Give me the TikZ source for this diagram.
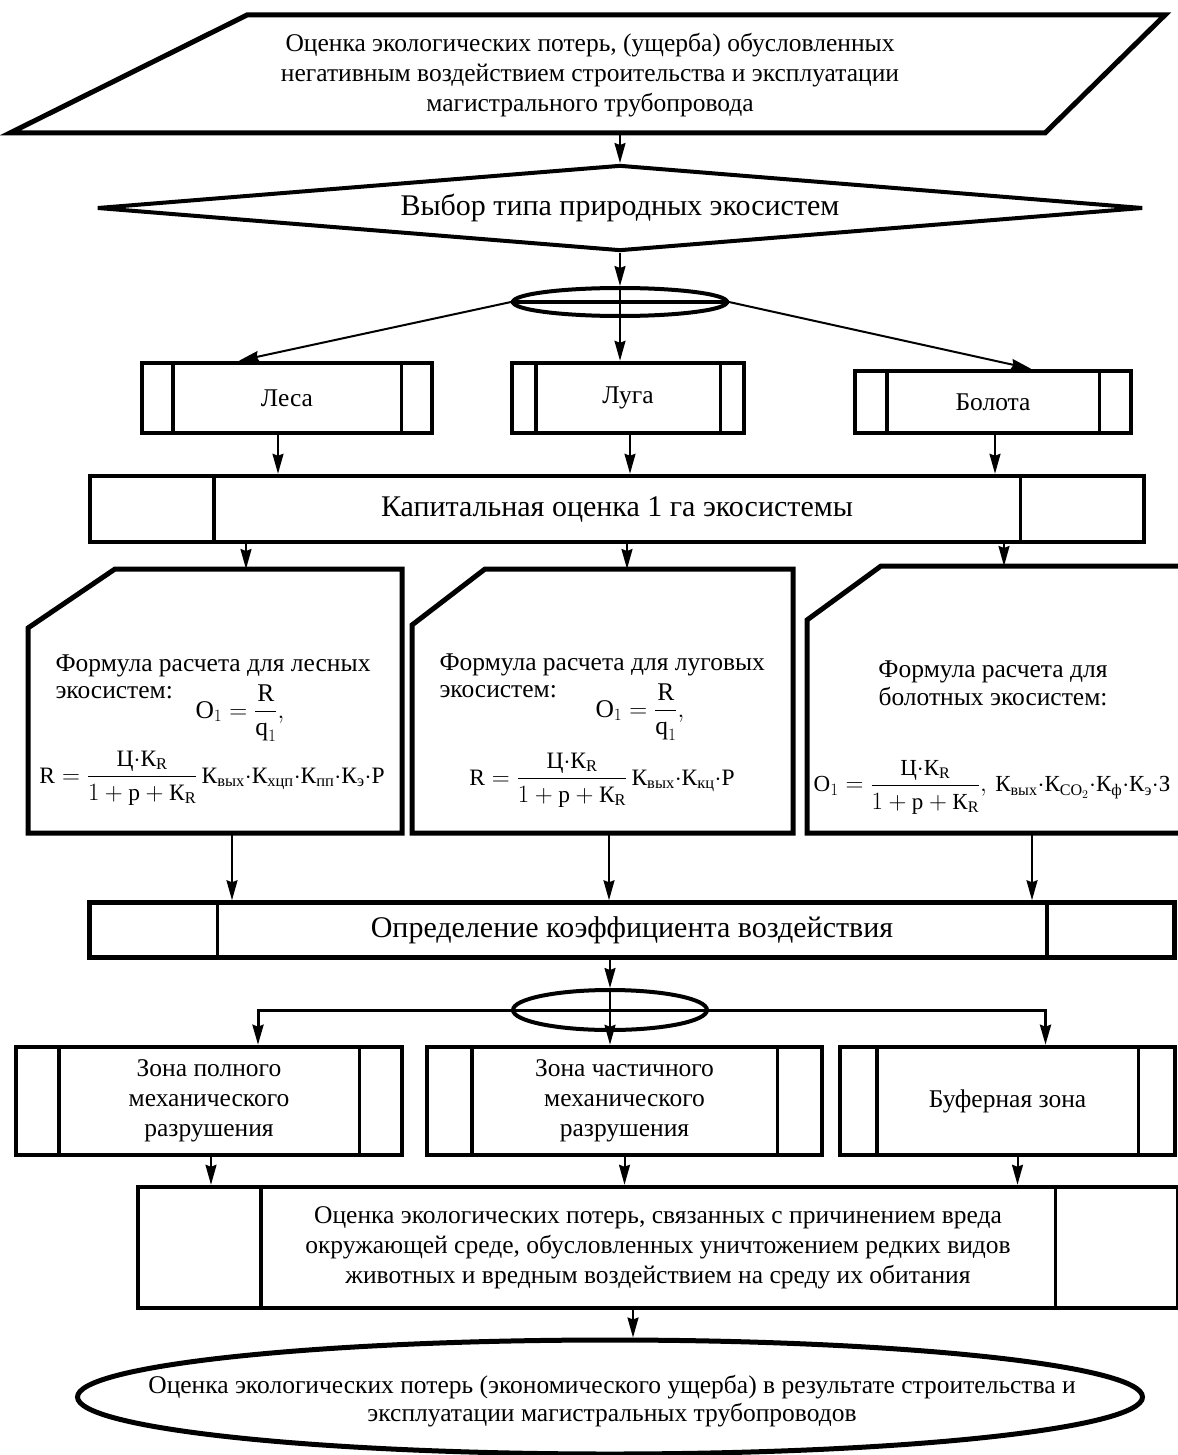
\documentclass[tikz,border=0pt]{standalone}
\usepackage{fontspec}
\setmainfont{Liberation Serif}
\usepackage{amsmath}
\usetikzlibrary{shapes.geometric,arrows.meta}
\newcommand{\md}{{\cdot}}

\begin{document}
\begin{tikzpicture}[x=1pt,y=-1pt,
    box/.style={draw,rectangle,line width=4.5pt,inner sep=0pt},
    fork/.style={draw,ellipse,line width=4pt,inner sep=0pt},
    arr/.style={-{Stealth[length=20pt,width=11pt,inset=2pt]},line width=2pt},
    txt/.style={font=\fontsize{25.5}{30}\selectfont,align=center},
    frm/.style={font=\fontsize{23.5}{28}\selectfont},
    big/.style={font=\fontsize{30}{36}\selectfont}]
  \useasboundingbox (0,0) rectangle (1177,1455);
  % input
  \draw[line width=5pt] (10,133) -- (247,15) -- (1165,15) -- (1045,133) -- cycle;
  \node[txt] (top) at (590,75) {Оценка экологических потерь, (ущерба) обусловленных\\негативным воздействием строительства и эксплуатации\\магистрального трубопровода};
  \coordinate (topout) at (620,133);
  \node[draw,diamond,line width=4pt,inner sep=0pt,shape aspect=12,minimum width=1046pt,minimum height=86pt,big] (choice) at (620,208) {Выбор типа природных экосистем};
  \draw[arr] (topout) -- (choice.north);
  % ecosystems
  \node[fork,minimum width=214pt,minimum height=28pt] (fork1) at (620,302) {};
  \draw[line width=4pt] (fork1.west) -- (fork1.east);
  \draw[arr] (choice.south) -- (fork1.north);
  \node[box,minimum width=290pt,minimum height=70pt,txt] (lesa) at (287,398) {Леса};
  \node[box,minimum width=232pt,minimum height=70pt,txt] (luga) at (628,398) {Луга};
  \node[box,minimum width=276pt,minimum height=62pt,txt] (bolota) at (993,402) {Болота};
  \draw[arr] (fork1.north) -- (fork1.north |- luga.north);
  \draw[arr] (fork1.west) -- ([xshift=-48pt]lesa.north);
  \draw[arr] (fork1.east) -- ([xshift=38pt]bolota.north);
  \node[box,minimum width=1054pt,minimum height=66pt,big] (cap) at (617,509) {Капитальная оценка 1 га экосистемы};
  \foreach \n/\s in {lesa/-9,luga/2,bolota/2}
    \draw[arr] ([xshift=\s pt]\n.south) -- ([xshift=\s pt]\n.south |- cap.north);
  % formulas
  \draw[line width=5pt] (115,569) -- (402,569) -- (402,833) -- (28,833) -- (28,628) -- cycle;
  \draw[line width=5pt] (485,569) -- (793,569) -- (793,833) -- (412,833) -- (412,625) -- cycle;
  \draw[line width=5pt] (881,566) -- (1190,566) -- (1190,833) -- (807,833) -- (807,620) -- cycle;
  \coordinate (f1in) at (246,569);
  \coordinate (f2in) at (627,569);
  \coordinate (f3in) at (1004,566);
  \foreach \c in {f1in,f2in,f3in}
    \draw[arr] (cap.south -| \c) -- (\c);
  \node[txt,font=\fontsize{25.5}{27}\selectfont,align=left,anchor=west] (f1head) at (52,677) {Формула расчета для лесных\\экосистем:};
  \node[txt] (f1a) at (240,713) {$\text{O}_1=\dfrac{\text{R}}{\text{q}_1},$};
  \node[frm] (f1b) at (212,778) {$\text{R}=\dfrac{\text{Ц}\md\text{К}_\text{R}}{1+\text{p}+\text{К}_\text{R}}\,\text{К}_\text{вых}\md\text{К}_\text{хцп}\md\text{К}_\text{пп}\md\text{К}_\text{э}\md\text{P}$};
  \node[txt,font=\fontsize{25.5}{27}\selectfont,align=left,anchor=west] (f2head) at (436,676) {Формула расчета для луговых\\экосистем:};
  \node[txt] (f2a) at (640,712) {$\text{O}_1=\dfrac{\text{R}}{\text{q}_1},$};
  \node[frm] (f2b) at (602,780) {$\text{R}=\dfrac{\text{Ц}\md\text{К}_\text{R}}{1+\text{p}+\text{К}_\text{R}}\,\text{К}_\text{вых}\md\text{К}_\text{кц}\md\text{P}$};
  \node[txt,font=\fontsize{25.5}{28}\selectfont] (f3head) at (993,683) {Формула расчета для\\болотных экосистем:};
  \node[frm,font=\fontsize{23}{28}\selectfont] (f3a) at (992,787) {$\text{O}_1=\dfrac{\text{Ц}\md\text{К}_\text{R}}{1+\text{p}+\text{К}_\text{R}},\,\text{К}_\text{вых}\md\text{К}_{\text{CO}_2}\md\text{К}_\text{ф}\md\text{К}_\text{э}\md\text{З}$};
  % impact
  \node[box,minimum width=1085pt,minimum height=55pt,big] (coef) at (632,930) {Определение коэффициента воздействия};
  \coordinate (f1out) at (232,833);
  \coordinate (f2out) at (609,833);
  \coordinate (f3out) at (1032,833);
  \foreach \c in {f1out,f2out,f3out}
    \draw[arr] (\c) -- (\c |- coef.north);
  \node[fork,minimum width=194pt,minimum height=40pt] (fork2) at (610,1010) {};
  \draw[arr] (coef.south -| fork2.north) -- (fork2.north);
  \node[box,minimum width=386pt,minimum height=108pt,txt] (zone1) at (209,1101) {Зона полного\\механического\\разрушения};
  \node[box,minimum width=395pt,minimum height=108pt,txt] (zone2) at (624.5,1101) {Зона частичного\\механического\\разрушения};
  \node[box,minimum width=335pt,minimum height=108pt,txt] (zone3) at (1007.5,1101) {Буферная зона};
  \draw[arr,line width=3pt] (fork2.center) -| ([xshift=49pt]zone1.north);
  \draw[arr,line width=3pt] (fork2.center) -| ([xshift=38pt]zone3.north);
  \draw[arr] (fork2.north) -- (fork2.north |- zone2.north);
  % result
  \node[box,minimum width=1040pt,minimum height=121pt,txt] (harm) at (658,1247.5) {Оценка экологических потерь, связанных с причинением вреда\\окружающей среде, обусловленных уничтожением редких видов\\животных и вредным воздействием на среду их обитания};
  \foreach \n/\s in {zone1/2,zone2/0,zone3/10}
    \draw[arr] ([xshift=\s pt]\n.south) -- ([xshift=\s pt]\n.south |- harm.north);
  \foreach \n/\d in {lesa/33,luga/26,bolota/34,cap/126,coef/130,zone1/45,zone2/47,zone3/39,harm/125} {
    \draw[line width=3.5pt] ([xshift=\d pt]\n.north west) -- ([xshift=\d pt]\n.south west);
    \draw[line width=3.5pt] ([xshift=-\d pt]\n.north east) -- ([xshift=-\d pt]\n.south east);
  }
  \node[fork,line width=5pt,minimum width=1065pt,minimum height=114pt] (result) at (610,1397) {};
  \node[txt,font=\fontsize{25.5}{28}\selectfont] (resulttext) at (612,1401) {Оценка экологических потерь (экономического ущерба) в результате строительства и\\эксплуатации магистральных трубопроводов};
  \draw[arr] ([xshift=-25pt]harm.south) -- ([xshift=-25pt]harm.south |- result.north);
\end{tikzpicture}
\end{document}
